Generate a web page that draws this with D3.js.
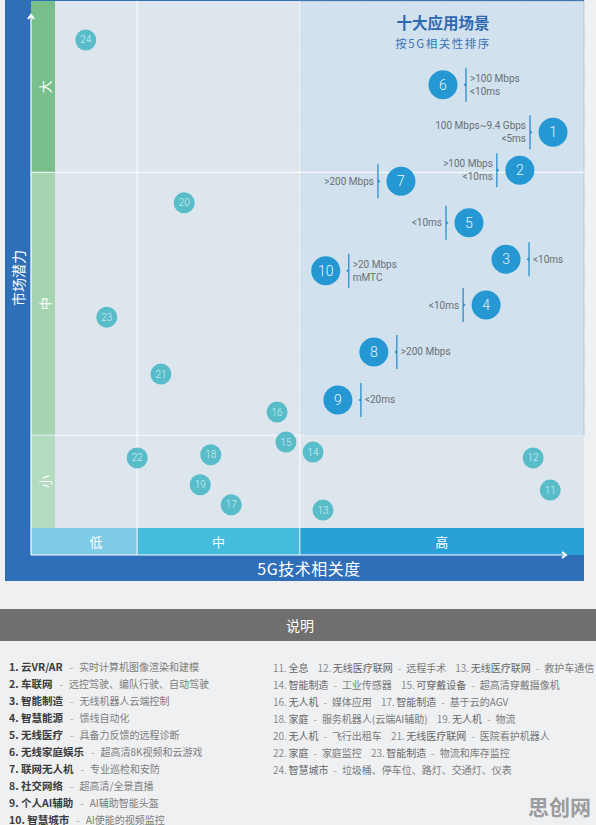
<!DOCTYPE html>
<html lang="zh">
<head>
<meta charset="UTF-8">
<script src="https://d3js.org/d3.v7.min.js"></script>
<title>5G 十大应用场景</title>
<style>
  body { margin: 0; background: #eff0f2; }
  svg { display: block; font-family: "Noto Sans CJK SC", "Noto Sans", sans-serif; }
</style>
</head>
<body>
<div id="chart"></div>
<script>
// bubble data: id, 5G relevance (x, 0-100), market potential (y, 0-100)
const bubbleIds = [1, 2, 3, 4, 5, 6, 7, 8, 9, 10, 11, 12, 13, 14, 15, 16, 17, 18, 19, 20, 21, 22, 23, 24];
const relevance = [94.4, 88.4, 85.9, 82.3, 79.2, 74.5, 66.9, 62.0, 55.5, 53.3, 93.9, 90.8, 52.8, 51.0, 46.1, 44.5, 36.2, 32.5, 30.6, 27.7, 23.5, 19.2, 13.7, 9.9];
const potential = [75.1, 67.9, 51.0, 42.3, 57.9, 84.1, 65.8, 33.4, 24.3, 48.8, 7.2, 13.3, 3.4, 14.4, 16.3, 22.0, 4.4, 13.9, 8.2, 61.7, 29.2, 13.3, 40.0, 92.6];

// network requirements of the top ten
const specs = {
  1: ['100 Mbps~9.4 Gbps', '<5ms'],
  2: ['>100 Mbps', '<10ms'],
  3: ['<10ms'],
  4: ['<10ms'],
  5: ['<10ms'],
  6: ['>100 Mbps', '<10ms'],
  7: ['>200 Mbps'],
  8: ['>200 Mbps'],
  9: ['<20ms'],
  10: ['>20 Mbps', 'mMTC']
};

// bands on both axes
const xBandLabels = ['低', '中', '高'];
const xBandBreaks = [0, 19.2, 48.6, 100];
const yBandLabels = ['小', '中', '大'];
const yBandBreaks = [0, 17.6, 67.5, 100];

// legend
const topNames = ['云VR/AR', '车联网', '智能制造', '智慧能源', '无线医疗', '无线家庭娱乐', '联网无人机', '社交网络', '个人AI辅助', '智慧城市'];
const topDescs = ['实时计算机图像渲染和建模', '远控驾驶、编队行驶、自动驾驶', '无线机器人云端控制', '馈线自动化', '具备力反馈的远程诊断',
  '超高清8K视频和云游戏', '专业巡检和安防', '超高清/全景直播', 'AI辅助智能头盔', 'AI使能的视频监控'];
const otherNames = ['全息', '无线医疗联网', '无线医疗联网', '智能制造', '可穿戴设备', '无人机', '智能制造', '家庭', '无人机', '无人机', '无线医疗联网', '家庭', '智能制造', '智慧城市'];
const otherDescs = ['', '远程手术', '救护车通信', '工业传感器', '超高清穿戴摄像机', '媒体应用', '基于云的AGV', '服务机器人(云端AI辅助)', '物流',
  '飞行出租车', '医院看护机器人', '家庭监控', '物流和库存监控', '垃圾桶、停车位、路灯、交通灯、仪表'];
const otherRows = [[11, 12, 13], [14, 15], [16, 17], [18, 19], [20, 21], [22, 23], [24]];

const W = 596, H = 825;
const svg = d3.select('#chart').append('svg').attr('width', W).attr('height', H);

const x = d3.scaleLinear().domain([0, 100]).range([31, 584]);
const y = d3.scaleLinear().domain([0, 100]).range([528, 1]);
const bandBottom = 555;
const greenRight = 55;

// label side for the requirement notes
const leftSide = new Set([1, 2, 4, 5, 7]);

// outer blue frame
svg.append('rect').attr('x', 5).attr('y', 0).attr('width', 584 - 5).attr('height', 581).attr('fill', '#2f6fb9');

// plot background
svg.append('rect').attr('x', greenRight).attr('y', y(100)).attr('width', x(100) - greenRight)
  .attr('height', y(0) - y(100)).attr('fill', '#dde5ed');

// highlighted top-ten box
svg.append('rect')
  .attr('x', x(xBandBreaks[2])).attr('y', y(100))
  .attr('width', x(100) - x(xBandBreaks[2])).attr('height', y(yBandBreaks[1]) - y(100))
  .attr('fill', '#d1e1ee').attr('stroke', '#7d93a8').attr('stroke-dasharray', '1,1.5');

// y bands (green column)
const yColors = ['#b3dbbf', '#a5d4b1', '#79bf8c'];
yBandLabels.forEach((lab, i) => {
  const y0 = y(yBandBreaks[i]), y1 = y(yBandBreaks[i + 1]);
  svg.append('rect').attr('x', x(0)).attr('y', y1).attr('width', greenRight - x(0)).attr('height', y0 - y1)
    .attr('fill', yColors[i]);
  const cy = (y0 + y1) / 2;
  svg.append('text').attr('transform', `translate(44,${cy}) rotate(-90)`)
    .attr('text-anchor', 'middle').attr('dominant-baseline', 'central')
    .attr('fill', '#fff').attr('font-size', 13).text(lab);
});

// x bands (blue row)
const xColors = ['#7ecbe6', '#46bcdc', '#2aa0d8'];
xBandLabels.forEach((lab, i) => {
  const x0 = x(xBandBreaks[i]), x1 = x(xBandBreaks[i + 1]);
  svg.append('rect').attr('x', x0).attr('y', y(0)).attr('width', x1 - x0).attr('height', bandBottom - y(0))
    .attr('fill', xColors[i]);
  svg.append('text').attr('x', (Math.max(x0, greenRight) + x1) / 2).attr('y', (y(0) + bandBottom) / 2)
    .attr('text-anchor', 'middle').attr('dominant-baseline', 'central')
    .attr('fill', '#fff').attr('font-size', 13).text(lab);
});

// grid lines at band breaks
xBandBreaks.slice(1, -1).forEach(v => {
  svg.append('line').attr('x1', x(v)).attr('x2', x(v)).attr('y1', y(100)).attr('y2', bandBottom)
    .attr('stroke', '#fff').attr('stroke-width', 1.2).attr('opacity', 0.85);
});
yBandBreaks.slice(1, -1).forEach(v => {
  svg.append('line').attr('x1', x(0)).attr('x2', x(100)).attr('y1', y(v)).attr('y2', y(v))
    .attr('stroke', '#fff').attr('stroke-width', 1.2).attr('opacity', 0.85);
});

// axis arrows
const axisG = svg.append('g').attr('stroke', '#fff').attr('fill', 'none');
axisG.append('line').attr('x1', x(0)).attr('x2', x(0)).attr('y1', bandBottom).attr('y2', 15).attr('stroke-width', 1.2);
axisG.append('path').attr('d', `M${x(0) - 3},${19} L${x(0)},${15} L${x(0) + 3},${19}`).attr('stroke-width', 2);
axisG.append('line').attr('x1', x(0)).attr('x2', 566).attr('y1', bandBottom).attr('y2', bandBottom).attr('stroke-width', 1.2);
axisG.append('path').attr('d', `M562,${bandBottom - 3} L566,${bandBottom} L562,${bandBottom + 3}`).attr('stroke-width', 2);

// axis titles
svg.append('text').attr('transform', 'translate(18,278) rotate(-90)')
  .attr('text-anchor', 'middle').attr('dominant-baseline', 'central')
  .attr('fill', '#fff').attr('font-size', 14).text('市场潜力');
svg.append('text').attr('x', 309).attr('y', 568)
  .attr('text-anchor', 'middle').attr('dominant-baseline', 'central')
  .attr('fill', '#fff').attr('font-size', 16).attr('letter-spacing', 0.5).text('5G技术相关度');

// box title
svg.append('text').attr('x', 443).attr('y', 22).attr('text-anchor', 'middle').attr('dominant-baseline', 'central')
  .attr('fill', '#2e68b0').attr('font-size', 15.5).attr('font-weight', 'bold').text('十大应用场景');
svg.append('text').attr('x', 443).attr('y', 42.5).attr('text-anchor', 'middle').attr('dominant-baseline', 'central')
  .attr('fill', '#3b72b6').attr('font-size', 11.5).attr('letter-spacing', 1.5).text('按5G相关性排序');

// bubbles
const bubbles = bubbleIds.map((id, i) => ({ id, rx: relevance[i], py: potential[i], top: id <= 10 }));

const noteG = svg.append('g');
bubbles.filter(d => d.top).forEach(d => {
  const cx = x(d.rx), cy = y(d.py);
  const left = leftSide.has(d.id);
  const lx = left ? cx - 23 : cx + 23;
  noteG.append('line').attr('x1', lx).attr('x2', lx).attr('y1', cy - 17).attr('y2', cy + 17)
    .attr('stroke', '#2b8fcb').attr('stroke-width', 1.3);
  const dir = left ? 1 : -1;
  noteG.append('path').attr('d', `M${lx},${cy - 2} L${lx + dir * 2.5},${cy} L${lx},${cy + 2}Z`).attr('fill', '#2b8fcb');
  const lines = specs[d.id];
  lines.forEach((t, k) => {
    const off = lines.length === 1 ? 0 : (k === 0 ? -6.5 : 6.5);
    noteG.append('text').attr('x', left ? lx - 4 : lx + 4).attr('y', cy + off)
      .attr('text-anchor', left ? 'end' : 'start').attr('dominant-baseline', 'central')
      .attr('fill', '#6b6f74').attr('font-size', 10).attr('font-family', 'Roboto, "Noto Sans", sans-serif')
      .text(t);
  });
});

const bubG = svg.append('g').selectAll('g').data(bubbles).join('g')
  .attr('transform', d => `translate(${x(d.rx)},${y(d.py)})`);
bubG.append('circle').attr('r', d => d.top ? 14.5 : 10.5)
  .attr('fill', d => d.top ? '#2598d3' : '#58bcc9');
bubG.append('text').attr('text-anchor', 'middle').attr('dominant-baseline', 'central')
  .attr('fill', d => d.top ? '#e6f4fb' : '#d7f0f3')
  .attr('font-size', d => d.top ? 14 : 10)
  .attr('font-family', 'Roboto, "Noto Sans", sans-serif').attr('font-weight', 300)
  .text(d => d.id);

// legend header
svg.append('rect').attr('x', 0).attr('y', 609).attr('width', W).attr('height', 32).attr('fill', '#6f6f6f');
svg.append('text').attr('x', 300).attr('y', 625).attr('text-anchor', 'middle').attr('dominant-baseline', 'central')
  .attr('fill', '#fff').attr('font-size', 14).text('说明');

// left legend column
topNames.forEach((name, i) => {
  const t = svg.append('text').attr('x', 9).attr('y', 666 + i * 17).attr('dominant-baseline', 'central')
    .attr('font-size', 10);
  t.append('tspan').attr('fill', '#3c3c3c').attr('font-weight', 'bold').attr('font-size', 10.5).text(`${i + 1}. ${name}`);
  t.append('tspan').attr('dx', 7).attr('fill', '#a0a0a0').text('-');
  t.append('tspan').attr('dx', 6).attr('fill', '#7d7d7d').text(topDescs[i]);
});

// right legend column
otherRows.forEach((row, r) => {
  const t = svg.append('text').attr('x', 273).attr('y', 667 + r * 17).attr('dominant-baseline', 'central')
    .attr('font-size', 10);
  row.forEach((id, k) => {
    const j = id - 11;
    t.append('tspan').attr('dx', k === 0 ? 0 : 9).attr('fill', '#8a8a8a').text(`${id}.`);
    t.append('tspan').attr('dx', 1.5).attr('fill', '#666').text(otherNames[j]);
    if (otherDescs[j]) {
      t.append('tspan').attr('dx', 5).attr('fill', '#a0a0a0').text('-');
      t.append('tspan').attr('dx', 5).attr('fill', '#7a7a7a').text(otherDescs[j]);
    }
  });
});

// watermark
svg.append('text').attr('x', 591).attr('y', 806).attr('text-anchor', 'end').attr('dominant-baseline', 'central')
  .attr('fill', '#9c9c9c').attr('font-size', 21).attr('font-weight', 'bold').text('思创网');
</script>
</body>
</html>
